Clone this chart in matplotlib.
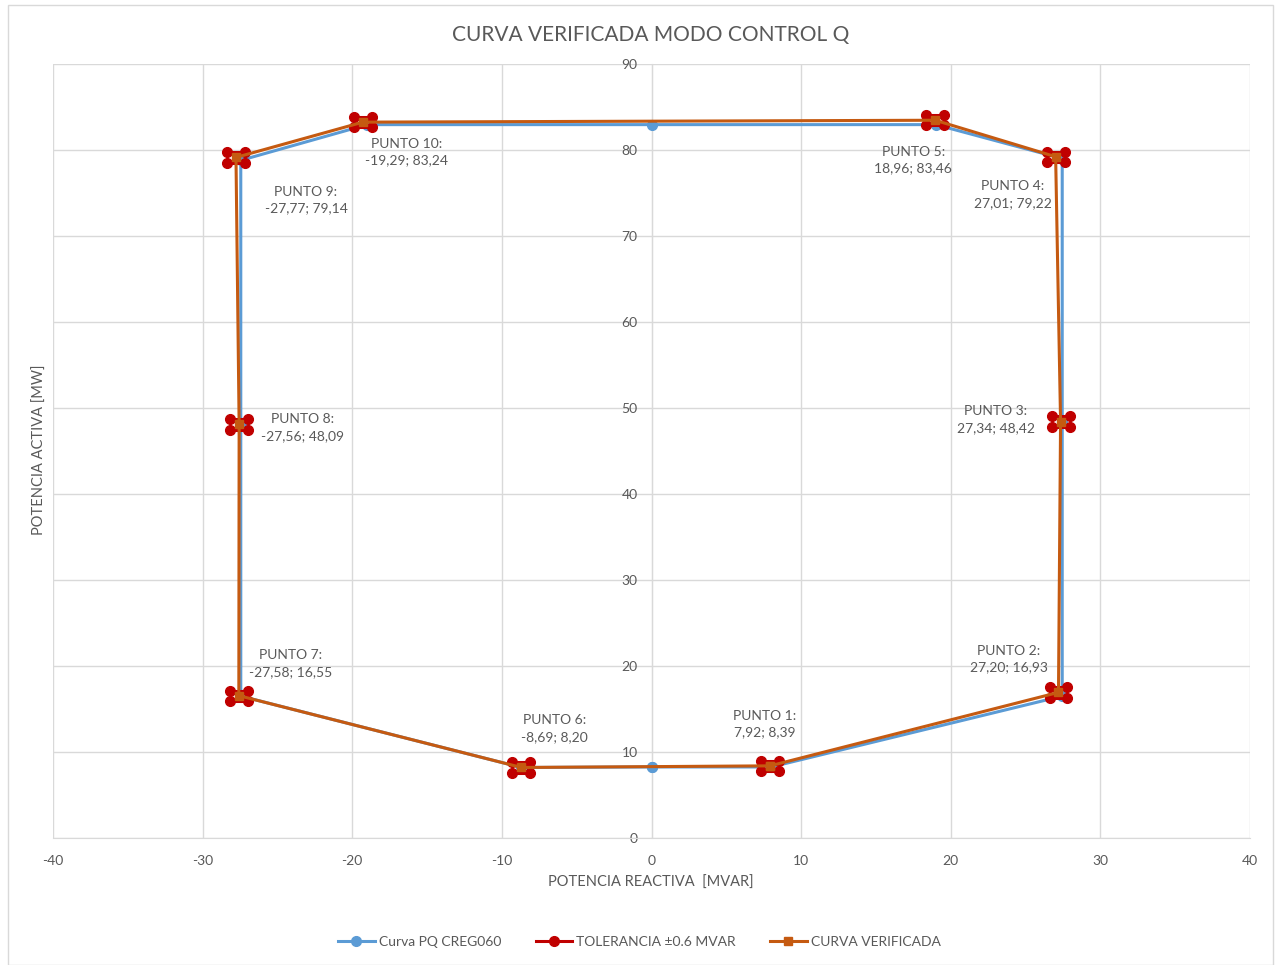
import matplotlib
matplotlib.use("Agg")
import matplotlib.pyplot as plt
from matplotlib.patches import Rectangle

plt.rcParams['font.family'] = ['Lato', 'DejaVu Sans']
plt.rcParams['axes.unicode_minus'] = False

# puntos verificados (Q [MVAR], P [MW])
punto_q = [7.92, 27.20, 27.34, 27.01, 18.96, -8.69, -27.58, -27.56, -27.77, -19.29]
punto_p = [8.39, 16.93, 48.42, 79.22, 83.46, 8.20, 16.55, 48.09, 79.14, 83.24]
punto_nombres = ["PUNTO %d" % i for i in range(1, 11)]
orden_verificada = [0, 1, 2, 3, 4, 9, 8, 7, 6, 5, 0]

# curva PQ CREG060
creg_q = [0, 8.0, 27.45, 27.45, 27.45, 19.0, 0, -19.0, -27.45, -27.45, -27.45, -8.7, 0]
creg_p = [8.26, 8.26, 16.5, 48.4, 79.0, 82.95, 82.95, 82.95, 78.8, 48.1, 16.5, 8.2, 8.26]

tol = 0.6

# desplazamiento de etiquetas (pixeles)
offsets = [(-5, 42), (-50, 33), (-65, 2), (-43, -38), (-22, -40),
           (33, 39), (52, 32), (63, -3), (70, -43), (44, -30)]

gris = '#595959'
fig = plt.figure(figsize=(12.79, 9.65), dpi=100)
ax = fig.add_axes([53 / 1279, 1 - 838 / 965, (1250 - 53) / 1279, (838 - 64) / 965])

ax.set_xlim(-40, 40)
ax.set_ylim(0, 90)
ax.set_xticks(range(-40, 41, 10))
ax.set_yticks(range(0, 91, 10))
ax.grid(True, color='#d9d9d9', linewidth=1)
ax.set_axisbelow(True)
for s in ['top', 'right']:
    ax.spines[s].set_visible(False)
ax.spines['left'].set_position(('data', 0))
ax.spines['left'].set_color('#d9d9d9')
ax.spines['bottom'].set_color('#d9d9d9')
ax.tick_params(length=0, colors=gris, labelsize=10)
ax.tick_params(axis='x', pad=12)
ax.tick_params(axis='y', pad=10)

# curva CREG060
ax.plot(creg_q, creg_p, color='#5B9BD5', linewidth=2.2, marker='o', markersize=7,
        label='Curva PQ CREG060', zorder=3)

# tolerancia
tq, tp = [], []
for q, p in zip(punto_q, punto_p):
    for dp in (tol, -tol):
        tq += [q - tol, q + tol, float('nan')]
        tp += [p + dp, p + dp, float('nan')]
ax.plot(tq, tp, color='#C00000', linewidth=2.2, marker='o', markersize=7,
        label='TOLERANCIA ±0.6 MVAR', zorder=4)

# curva verificada
vq = [punto_q[i] for i in orden_verificada]
vp = [punto_p[i] for i in orden_verificada]
ax.plot(vq, vp, color='#C55A11', linewidth=2.2, marker='s', markersize=6,
        label='CURVA VERIFICADA', zorder=5)

for nombre, q, p, off in zip(punto_nombres, punto_q, punto_p, offsets):
    txt = "%s:\n%s; %s" % (nombre, ("%.2f" % q).replace('.', ','), ("%.2f" % p).replace('.', ','))
    ax.annotate(txt, (q, p), xytext=off, textcoords='offset pixels',
                ha='center', va='center', multialignment='center',
                fontsize=10, color=gris, linespacing=1.45, zorder=6)

fig.text(651 / 1279, 1 - 35 / 965, 'CURVA VERIFICADA MODO CONTROL Q',
         ha='center', va='center', fontsize=15, color=gris)
fig.text(651 / 1279, 1 - 883 / 965, 'POTENCIA REACTIVA  [MVAR]',
         ha='center', va='center', fontsize=10.5, color=gris)
fig.text(40 / 1279, 1 - 450 / 965, 'POTENCIA ACTIVA [MW]', rotation=90,
         ha='center', va='center', fontsize=10.5, color=gris)

fig.legend(loc='center', bbox_to_anchor=(0.5, 1 - 942 / 965), ncol=3, frameon=False,
           fontsize=10, labelcolor=gris, handlelength=2.6, columnspacing=2.5,
           handletextpad=0.3)

fig.patches.append(Rectangle((8 / 1279, 0), (1273 - 8) / 1279, 1 - 5 / 965,
                             transform=fig.transFigure, fill=False,
                             edgecolor='#d9d9d9', linewidth=1))

fig.savefig('out.png', dpi=100)
